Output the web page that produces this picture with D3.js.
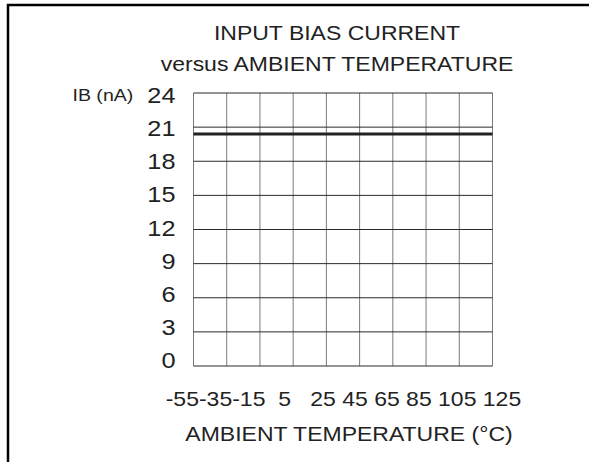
<!DOCTYPE html>
<html><head><meta charset="utf-8">
<script src="https://cdn.jsdelivr.net/npm/d3@7"></script>
<style>html,body{margin:0;padding:0;background:#fff}svg{display:block}text{font-family:"Liberation Sans",Arial,sans-serif;fill:#222;white-space:pre}</style>
</head><body>
<script>
const titleLines = ["INPUT BIAS CURRENT", "versus AMBIENT TEMPERATURE"];
const xTitle = "AMBIENT TEMPERATURE (°C)";
const yTitle = "IB (nA)";
const xTicks = [-55, -35, -15, 5, 25, 45, 65, 85, 105, 125];
const xTickSep = ["", "", "  ", "   ", " ", " ", " ", " ", " "];
const yTicks = [0, 3, 6, 9, 12, 15, 18, 21, 24];
const seriesTemp = [-55, 125];
const seriesIB = [20.4, 20.4];

const W = 589, H = 462, SX = 1.15;
const svg = d3.select("body").append("svg").attr("width", W).attr("height", H);
svg.append("rect").attr("width", W).attr("height", H).attr("fill", "#fff");

// frame (top and left edges)
svg.append("line").attr("x1", 7).attr("x2", W).attr("y1", 5).attr("y2", 5).attr("stroke", "#000").attr("stroke-width", 2.5);
svg.append("line").attr("x1", 8).attr("x2", 8).attr("y1", 4).attr("y2", H).attr("stroke", "#000").attr("stroke-width", 2.5);

const x = d3.scaleLinear().domain([-55, 125]).range([193.5, 492.5]);
const y = d3.scaleLinear().domain([0, 24]).range([366, 93]);
const yLab = d3.scaleLinear().domain([0, 24]).range([360.5, 94.7]);

function stext(px, py, str, size, anchor) {
  const g = svg.append("g").attr("transform", `translate(${px},${py}) scale(${SX},1)`);
  return g.append("text").attr("x", 0).attr("y", 0).attr("font-size", size).attr("text-anchor", anchor || "start").text(str);
}

// grid
const grid = svg.append("g");
grid.selectAll(".v").data(xTicks).join("line")
  .attr("x1", d => x(d)).attr("x2", d => x(d)).attr("y1", y(24)).attr("y2", y(0))
  .attr("stroke", "#7a7a7a").attr("stroke-width", 1);
grid.selectAll(".h").data(yTicks).join("line")
  .attr("x1", x(-55)).attr("x2", x(125)).attr("y1", d => y(d)).attr("y2", d => y(d))
  .attr("stroke", "#2a2a2a").attr("stroke-width", 1);

// data line
const line = d3.line().x(d => x(d[0])).y(d => y(d[1]));
svg.append("path").datum(seriesTemp.map((t, i) => [t, seriesIB[i]]))
  .attr("d", line).attr("fill", "none").attr("stroke", "#222").attr("stroke-width", 3);

// titles
stext(337, 39.5, titleLines[0], 20, "middle");
stext(337, 70.5, titleLines[1], 20, "middle");
stext(72.5, 100.7, yTitle, 17, "start");
stext(349, 440.7, xTitle, 20, "middle");

// y tick labels
yTicks.forEach(v => stext(175.5, yLab(v) + 7.9, String(v), 22, "end"));

// x tick labels (one flowing line)
const xt = stext(165.7, 405.7, "", 20, "start");
xTicks.forEach((v, i) => {
  xt.append("tspan").text((i > 0 ? xTickSep[i - 1] : "") + String(v));
});
</script>
</body></html>
